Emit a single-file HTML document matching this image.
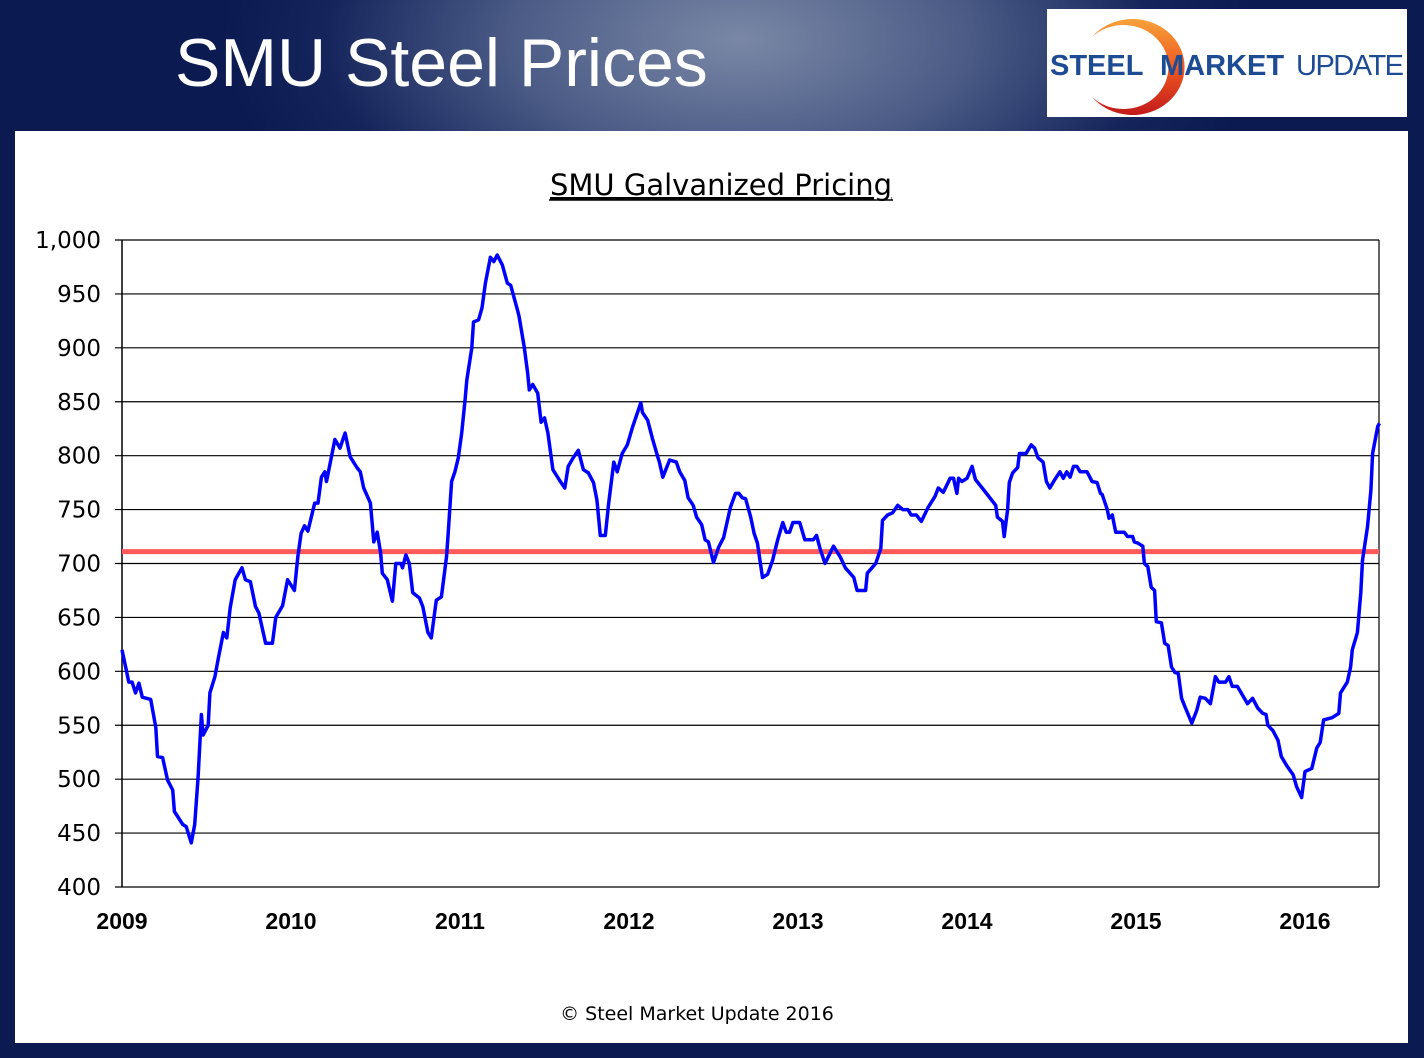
<!DOCTYPE html>
<html><head><meta charset="utf-8"><style>
html,body{margin:0;padding:0}
body{width:1424px;height:1058px;position:relative;overflow:hidden;background:#0b1a50;font-family:"Liberation Sans",sans-serif}
#hdr{position:absolute;left:0;top:0;width:1424px;height:131px;background:radial-gradient(ellipse 520px 260px at 740px 40px,#7a88a6 0%,#4a5a85 45%,#15255c 80%,#0b1a50 100%)}
#title{position:absolute;left:175px;top:24px;color:#fff;font-size:68px;font-family:"Liberation Sans",sans-serif;letter-spacing:0px}
#logo{position:absolute;left:1047px;top:9px;width:360px;height:108px;background:#fff}
#panel{position:absolute;left:15px;top:131px;width:1393px;height:912px;background:#fff}
</style></head><body>
<div id="hdr"></div>
<div id="title">SMU Steel Prices</div>
<div id="logo">
<svg width="360" height="108">
<defs><linearGradient id="og" x1="0" y1="0" x2="0" y2="1"><stop offset="0" stop-color="#f7a23a"/><stop offset="0.5" stop-color="#ee5a22"/><stop offset="1" stop-color="#c21a1a"/></linearGradient></defs>
<path d="M45,28 A52,48 0 1 1 45,88 A45,42 0 1 0 45,28 Z" fill="url(#og)"/>
<text x="3" y="66" font-family="Liberation Sans" font-weight="bold" font-size="29" fill="#1d4c94">STEEL</text>
<text x="113" y="66" font-family="Liberation Sans" font-weight="bold" font-size="29" fill="#1d4c94">MARKET</text>
<text x="249" y="66" font-family="Liberation Sans" font-size="29" fill="#1d4c94" textLength="108">UPDATE</text>
</svg></div>
<div id="panel"></div>
<svg id="chart" width="1424" height="1058" style="position:absolute;left:0;top:0"></svg>
<script>
const yTicks=[400,450,500,550,600,650,700,750,800,850,900,950,1000];
const yTickLabels=["400","450","500","550","600","650","700","750","800","850","900","950","1,000"];
const xTicks=[2009,2010,2011,2012,2013,2014,2015,2016];
const xTickLabels=["2009","2010","2011","2012","2013","2014","2015","2016"];
const averageValue=711;
const dates=[2009.00,2009.04,2009.06,2009.08,2009.10,2009.12,2009.17,2009.20,2009.21,2009.24,2009.27,2009.30,2009.31,2009.36,2009.38,2009.41,2009.43,2009.45,2009.47,2009.48,2009.51,2009.52,2009.55,2009.57,2009.60,2009.62,2009.64,2009.67,2009.71,2009.73,2009.76,2009.79,2009.81,2009.85,2009.89,2009.91,2009.95,2009.98,
2010.02,2010.04,2010.06,2010.08,2010.10,2010.14,2010.16,2010.18,2010.20,2010.21,2010.26,2010.29,2010.32,2010.35,2010.39,2010.41,2010.43,2010.47,2010.49,2010.51,2010.53,2010.54,2010.57,2010.60,2010.62,2010.65,2010.66,2010.68,2010.70,2010.72,2010.76,2010.78,2010.81,2010.83,2010.86,2010.89,2010.92,2010.93,2010.95,2010.97,2010.99,
2011.01,2011.03,2011.04,2011.07,2011.08,2011.11,2011.13,2011.15,2011.18,2011.20,2011.22,2011.25,2011.28,2011.30,2011.34,2011.35,2011.38,2011.40,2011.41,2011.43,2011.46,2011.48,2011.50,2011.52,2011.55,2011.59,2011.62,2011.64,2011.67,2011.70,2011.73,2011.76,2011.79,2011.81,2011.83,2011.86,2011.88,2011.91,2011.93,2011.96,2011.99,
2012.02,2012.07,2012.08,2012.11,2012.14,2012.17,2012.18,2012.20,2012.24,2012.28,2012.30,2012.33,2012.35,2012.38,2012.40,2012.43,2012.45,2012.47,2012.50,2012.53,2012.56,2012.60,2012.63,2012.65,2012.67,2012.69,2012.72,2012.74,2012.76,2012.79,2012.82,2012.85,2012.88,2012.91,2012.93,2012.95,2012.97,
2013.01,2013.04,2013.09,2013.11,2013.13,2013.16,2013.21,2013.25,2013.28,2013.33,2013.35,2013.40,2013.41,2013.46,2013.49,2013.50,2013.53,2013.56,2013.59,2013.62,2013.65,2013.67,2013.70,2013.73,2013.77,2013.81,2013.83,2013.86,2013.90,2013.92,2013.94,2013.95,2013.97,
2014.00,2014.03,2014.05,2014.09,2014.12,2014.17,2014.18,2014.21,2014.22,2014.24,2014.25,2014.27,2014.30,2014.31,2014.35,2014.38,2014.40,2014.42,2014.45,2014.47,2014.49,2014.52,2014.55,2014.57,2014.59,2014.61,2014.63,2014.65,2014.67,2014.71,2014.74,2014.77,2014.79,2014.80,2014.83,2014.84,2014.86,2014.88,2014.93,2014.95,2014.98,2014.99,
2015.01,2015.04,2015.05,2015.07,2015.09,2015.11,2015.12,2015.15,2015.17,2015.19,2015.21,2015.23,2015.25,2015.27,2015.29,2015.33,2015.36,2015.38,2015.41,2015.44,2015.47,2015.49,2015.53,2015.55,2015.57,2015.60,2015.63,2015.66,2015.69,2015.72,2015.75,2015.77,2015.78,2015.81,2015.84,2015.86,2015.89,2015.93,2015.95,2015.98,
2016.00,2016.04,2016.07,2016.09,2016.11,2016.16,2016.20,2016.21,2016.25,2016.27,2016.28,2016.31,2016.33,2016.34,2016.37,2016.39,2016.40,2016.43,2016.44];
const prices=[620,590,590,580,589,576,574,548,521,520,499,490,470,458,456,441,458,502,560,541,550,580,595,612,636,631,659,685,696,685,683,660,654,626,626,650,661,685,
675,706,728,735,730,756,756,780,785,776,815,807,821,799,789,785,770,756,720,729,710,691,685,665,700,700,696,708,700,673,668,660,636,631,666,669,706,728,776,785,798,
821,852,870,900,924,926,937,960,984,980,986,977,960,958,935,929,901,877,861,866,858,831,835,821,787,777,770,790,798,805,787,784,775,759,726,726,756,794,785,802,810,
826,849,840,833,815,799,794,780,796,794,785,777,761,754,743,736,722,720,701,715,724,752,765,765,761,760,743,728,719,687,690,703,722,738,729,729,738,
738,722,722,726,714,700,716,706,696,687,675,675,691,700,714,740,745,747,754,750,750,745,745,739,752,762,770,766,779,779,765,779,776,
779,790,778,770,764,754,743,739,725,750,775,784,789,802,802,810,807,798,794,776,770,778,785,779,785,780,790,790,785,785,776,775,765,764,750,742,745,729,729,725,725,720,
719,716,700,697,678,675,646,645,626,624,604,599,598,575,567,552,564,576,575,570,595,590,590,595,586,586,578,570,575,566,561,560,550,545,536,521,513,504,493,483,
507,510,529,534,555,557,561,580,590,604,620,636,673,703,734,768,802,827,830];

const svg=document.getElementById('chart');
const NS='http://www.w3.org/2000/svg';
const L=122,R=1379,T=240,B=887,YMIN=400,YMAX=1000,X0=2009,PXY=169;
const xs=d=>L+(d-X0)*PXY;
const ys=v=>B-(v-YMIN)*(B-T)/(YMAX-YMIN);
function mk(tag,attrs,parent){const e=document.createElementNS(NS,tag);for(const k in attrs)e.setAttribute(k,attrs[k]);(parent||svg).appendChild(e);return e;}

const t=mk('text',{x:721,y:195,'text-anchor':'middle','font-size':29,fill:'#000','text-decoration':'underline','font-family':'DejaVu Sans, Liberation Sans, sans-serif'});


t.textContent='SMU Galvanized Pricing';
const ul=mk('line',{x1:549,x2:893,y1:200,y2:200,stroke:'#000','stroke-width':1.5});



yTicks.forEach((v,i)=>{
  const g=mk('line',{x1:L-7,x2:R,y1:ys(v),y2:ys(v),stroke:'#000','stroke-width':1.2});
  
  
  const lb=mk('text',{x:101,y:ys(v)+8,'text-anchor':'end','font-size':23,fill:'#000','font-family':'DejaVu Sans, Liberation Sans, sans-serif'});
  
  
  lb.textContent=yTickLabels[i];
});
const ya=mk('line',{x1:L,x2:L,y1:T,y2:B,stroke:'#000','stroke-width':1.5});


const ra=mk('line',{x1:R,x2:R,y1:T,y2:B,stroke:'#000','stroke-width':1.2});


xTicks.forEach((d,i)=>{
  const lb=mk('text',{x:xs(d),y:929,'text-anchor':'middle','font-size':23,'font-weight':'bold',fill:'#000'});
  
  
  lb.textContent=xTickLabels[i];
});
const avg=mk('line',{x1:L,x2:R,y1:ys(averageValue),y2:ys(averageValue),stroke:'#ff5a5a','stroke-width':5});


const pts=dates.map((d,i)=>xs(d).toFixed(1)+','+ys(prices[i]).toFixed(1)).join(' ');
const pl=mk('polyline',{points:pts,fill:'none',stroke:'#0000ff','stroke-width':3.5,'stroke-linejoin':'round'});


const ft=mk('text',{x:697,y:1020,'text-anchor':'middle','font-size':19,fill:'#000','font-family':'DejaVu Sans, Liberation Sans, sans-serif'});


ft.textContent='© Steel Market Update 2016';
</script>
</body></html>
